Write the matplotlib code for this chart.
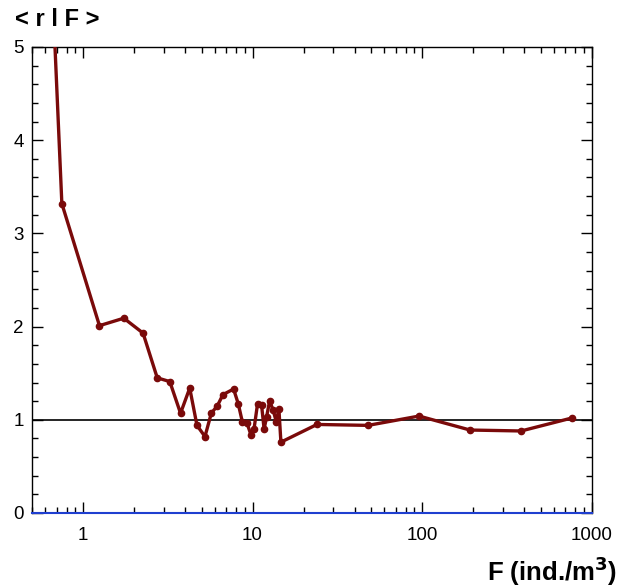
import numpy as np
import matplotlib.pyplot as plt
from matplotlib.ticker import FixedLocator, LogLocator, MultipleLocator, NullFormatter

plt.rcParams['font.family'] = ['Liberation Sans', 'DejaVu Sans']

# 數據
F_vals = [0.65, 0.75, 1.25, 1.74, 2.26, 2.74, 3.25, 3.76, 4.26, 4.70, 5.24,
          5.71, 6.20, 6.69, 7.73, 8.24, 8.70, 9.25, 9.78, 10.2, 10.7, 11.3,
          11.7, 12.1, 12.6, 13.2, 13.8, 14.3, 14.7, 24.0, 48.0, 96.0, 192.0,
          384.0, 768.0]
r_vals = [5.9, 3.32, 2.01, 2.09, 1.93, 1.45, 1.41, 1.07, 1.34, 0.94, 0.82,
          1.07, 1.15, 1.27, 1.33, 1.17, 0.98, 0.97, 0.84, 0.90, 1.17, 1.16,
          0.90, 1.03, 1.20, 1.11, 0.98, 1.12, 0.76, 0.95, 0.94, 1.04, 0.89,
          0.88, 1.02]
ref_level = 1.0

fig = plt.figure(figsize=(6.19, 5.86), dpi=100)
ax = fig.add_axes([0.0517, 0.1246, 0.904, 0.7952])

ax.axhline(ref_level, color='black', linewidth=1.2, zorder=2)
ax.plot(F_vals, r_vals, color='#7a0a0a', linewidth=2.4, marker='o',
        markersize=4.5, zorder=3, clip_on=True)

ax.set_xscale('log')
ax.set_xlim(0.5, 1000)
ax.set_ylim(0, 5)

ax.xaxis.set_major_locator(FixedLocator([1, 10, 100, 1000]))
ax.set_xticklabels(['1', '10', '100', '1000'])
ax.xaxis.set_minor_locator(LogLocator(base=10, subs=np.arange(2, 10)))
ax.xaxis.set_minor_formatter(NullFormatter())
ax.yaxis.set_major_locator(MultipleLocator(1))
ax.yaxis.set_minor_locator(MultipleLocator(0.2))

ax.tick_params(which='both', direction='in', top=True, right=True, labelsize=13.5)
ax.tick_params(which='major', length=8, width=1)
ax.tick_params(which='minor', length=4, width=1)
ax.tick_params(axis='x', pad=10)
ax.tick_params(axis='y', pad=6)

for s in ['top', 'left', 'right']:
    ax.spines[s].set_linewidth(1)
ax.spines['bottom'].set_color('#1f3fd0')
ax.spines['bottom'].set_linewidth(1.5)

fig.text(0.024, 0.966, '< r l F >', fontsize=17, fontweight='bold',
         ha='left', va='center')
fig.text(0.997, 0.026, 'F (ind./m$^\\mathbf{3}$)', fontsize=18.5, fontweight='bold',
         ha='right', va='center')

fig.savefig('out.png', dpi=100)
